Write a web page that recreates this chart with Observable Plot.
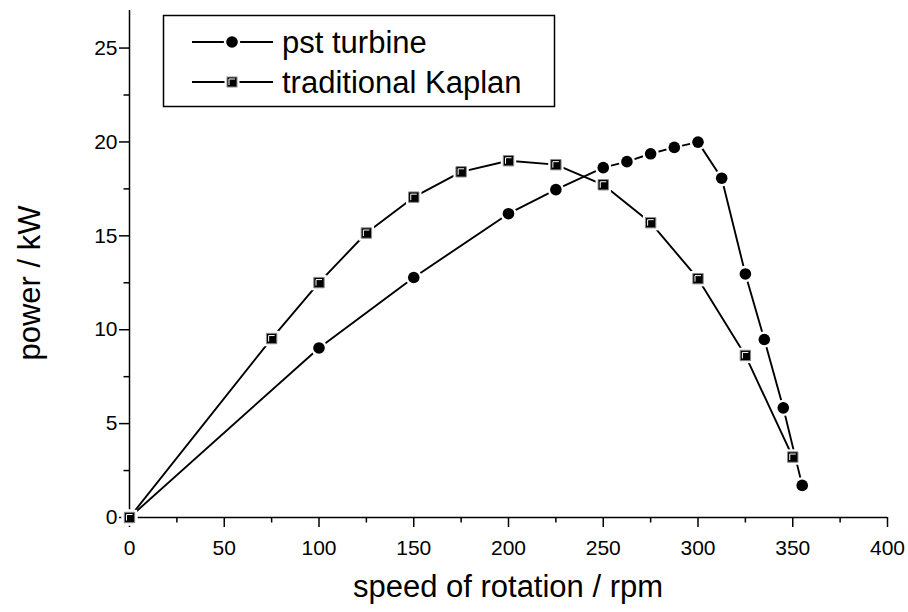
<!DOCTYPE html>
<html><head><meta charset="utf-8">
<script src="https://cdn.jsdelivr.net/npm/d3@7"></script>
<script src="https://cdn.jsdelivr.net/npm/@observablehq/plot@0.6"></script>
<style>
body{margin:0;background:#fff;}
#wrap{position:relative;width:908px;height:612px;font-family:"Liberation Sans",Arial,sans-serif;}
#legend{position:absolute;left:0;top:0;pointer-events:none;}
</style></head><body><div id="wrap"></div>
<script>
// pst turbine
const pstRpm   = [0, 100, 150, 200, 225, 250, 262.5, 275, 287.5, 300, 312.5, 325, 335, 345, 355];
const pstPower = [0, 9.03, 12.78, 16.18, 17.46, 18.63, 18.95, 19.37, 19.71, 19.99, 18.07, 12.97, 9.48, 5.84, 1.71];
// traditional Kaplan
const kapRpm   = [0, 75, 100, 125, 150, 175, 200, 225, 250, 275, 300, 325, 350];
const kapPower = [0, 9.53, 12.51, 15.15, 17.06, 18.41, 19.0, 18.79, 17.72, 15.70, 12.72, 8.63, 3.22];
// axis ticks
const xMajor = [0, 50, 100, 150, 200, 250, 300, 350, 400];
const xMinor = [25, 75, 125, 175, 225, 275, 325, 375];
const yMajor = [0, 5, 10, 15, 20, 25];
const yMinor = [2.5, 7.5, 12.5, 17.5, 22.5];
const seriesNames = ["pst turbine", "traditional Kaplan"];
const xTitle = "speed of rotation / rpm";
const yTitle = "power / kW";

const pst = pstRpm.map((x, i) => ({x, y: pstPower[i]}));
const kap = kapRpm.map((x, i) => ({x, y: kapPower[i]}));

// custom symbols, r = half side
const sq = {draw(ctx, size) { const s = Math.sqrt(size / Math.PI); ctx.moveTo(-s, -s); ctx.lineTo(s, -s); ctx.lineTo(s, s); ctx.lineTo(-s, s); ctx.closePath(); }};
const ell = {draw(ctx, size) { const s = Math.sqrt(size / Math.PI); ctx.moveTo(-s, s); ctx.lineTo(-s, -s); ctx.lineTo(s, -s); }};

const FONT = "Liberation Sans, Arial, sans-serif";
const chart = Plot.plot({
  width: 908, height: 612,
  marginLeft: 129, marginRight: 21, marginTop: 10, marginBottom: 95,
  style: {fontFamily: FONT, fontSize: "21px", color: "black", background: "white"},
  x: {domain: [0, 400]},
  y: {domain: [0, 27]},
  marks: [
    Plot.axisX({ticks: xMajor, tickSize: 10, tickPadding: 13, fontSize: 21, label: null, strokeWidth: 1.5}),
    Plot.axisX({ticks: xMinor, tickSize: 5.5, text: null, label: null, strokeWidth: 1.5}),
    Plot.axisY({ticks: yMajor, tickSize: 10, tickPadding: 2, fontSize: 21, label: null, strokeWidth: 1.5}),
    Plot.axisY({ticks: yMinor, tickSize: 5.5, text: null, label: null, strokeWidth: 1.5}),
    Plot.ruleY([0], {stroke: "black", strokeWidth: 1.5}),
    Plot.ruleX([0], {stroke: "black", strokeWidth: 1.5}),
    Plot.line(pst, {x: "x", y: "y", stroke: "black", strokeWidth: 1.9}),
    Plot.line(kap, {x: "x", y: "y", stroke: "black", strokeWidth: 1.9}),
    Plot.dot(pst, {x: "x", y: "y", r: 8.2, fill: "white"}),
    Plot.dot(pst, {x: "x", y: "y", r: 5.8, fill: "black"}),
    Plot.dot(kap, {x: "x", y: "y", symbol: sq, r: 7.7, fill: "white"}),
    Plot.dot(kap, {x: "x", y: "y", symbol: sq, r: 5.2, fill: "black", stroke: "#8a8a8a", strokeWidth: 1}),
    Plot.dot(kap, {x: "x", y: "y", symbol: ell, r: 3, fill: "none", stroke: "white", strokeWidth: 1})
  ]
});
document.getElementById("wrap").appendChild(chart);

// axis titles
const xs = chart.scale("x");
const svg = d3.select(chart);
svg.append("text")
  .attr("x", (xs.range[0] + xs.range[1]) / 2).attr("y", 597)
  .attr("text-anchor", "middle").attr("font-size", 31).attr("font-family", FONT).attr("fill", "black")
  .text(xTitle);
svg.append("text")
  .attr("transform", "translate(40,283) rotate(-90)")
  .attr("text-anchor", "middle").attr("font-size", 31).attr("font-family", FONT).attr("fill", "black")
  .text(yTitle);

// legend overlay
const lg = d3.select("#wrap").append("svg").attr("id", "legend").attr("width", 908).attr("height", 612);
lg.append("rect").attr("x", 163.5).attr("y", 15.5).attr("width", 391).attr("height", 91)
  .attr("fill", "white").attr("stroke", "black").attr("stroke-width", 1.5);
const rows = [42, 82];
seriesNames.forEach((name, i) => {
  const cy = rows[i];
  lg.append("line").attr("x1", 192).attr("x2", 273).attr("y1", cy).attr("y2", cy).attr("stroke", "black").attr("stroke-width", 1.9);
  if (i === 0) {
    lg.append("circle").attr("cx", 232).attr("cy", cy).attr("r", 8.2).attr("fill", "white");
    lg.append("circle").attr("cx", 232).attr("cy", cy).attr("r", 5.8).attr("fill", "black");
  } else {
    lg.append("rect").attr("x", 232 - 7.5).attr("y", cy - 7.5).attr("width", 15).attr("height", 15).attr("fill", "white");
    lg.append("rect").attr("x", 232 - 5).attr("y", cy - 5).attr("width", 10).attr("height", 10).attr("fill", "black").attr("stroke", "#8a8a8a");
    lg.append("path").attr("d", `M${232-3},${cy+3}V${cy-3}H${232+3}`).attr("fill", "none").attr("stroke", "white");
  }
  lg.append("text").attr("x", 282).attr("y", cy).attr("dy", "0.35em").attr("font-size", 31)
    .attr("font-family", FONT).attr("fill", "black").text(name);
});
</script>
</body></html>
